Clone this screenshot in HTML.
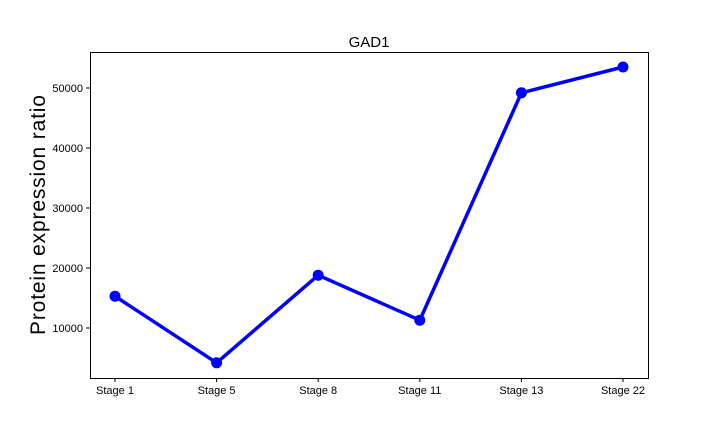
<!DOCTYPE html>
<html><head><meta charset="utf-8"><style>
body{margin:0;background:#fff;}
svg{display:block;font-family:"Liberation Sans","DejaVu Sans",sans-serif;}
</style></head><body>
<svg id="chart" width="720" height="432">
<rect x="0" y="0" width="720" height="432" fill="#fff"/>
<text x="369" y="47" text-anchor="middle" font-size="15">GAD1</text>
<text transform="translate(45,215) rotate(-90)" text-anchor="middle" font-size="21" textLength="240">Protein expression ratio</text>
<g id="axes"></g>
<rect x="90.5" y="52.5" width="558" height="326" fill="none" stroke="#000" stroke-width="1"/>
</svg>
<script>
const categories=["Stage 1","Stage 5","Stage 8","Stage 11","Stage 13","Stage 22"];
const values=[15300,4200,18800,11300,49200,53500];
const yTicks=[10000,20000,30000,40000,50000];
const yTickLabels=["10000","20000","30000","40000","50000"];
const NS="http://www.w3.org/2000/svg";
const g=document.getElementById("axes");
function xScale(i){return 115+i*101.6;}
function yScale(v){return 388-v*0.006;}
function mk(t,a){const e=document.createElementNS(NS,t);for(const k in a)e.setAttribute(k,a[k]);g.appendChild(e);return e;}
yTicks.forEach((v,i)=>{
  const y=yScale(v);
  const tk=mk("line",{x1:86,x2:90,y1:y,y2:y,stroke:"#000"});
  
  
  const t=mk("text",{x:83,y:y+4,"text-anchor":"end","font-size":"11"});
  t.textContent=yTickLabels[i];
  
  
});
categories.forEach((c,i)=>{
  const x=xScale(i);
  const tk=mk("line",{x1:x,x2:x,y1:378,y2:382,stroke:"#000"});
  
  
  const t=mk("text",{x:x,y:394,"text-anchor":"middle","font-size":"11"});
  t.textContent=c;
  
  
});
const pts=values.map((v,i)=>xScale(i)+","+yScale(v)).join(" ");
const line=mk("polyline",{points:pts,fill:"none",stroke:"#0000ff","stroke-width":"3.5","stroke-linejoin":"round"});


values.forEach((v,i)=>{
  const c=mk("circle",{cx:xScale(i),cy:yScale(v),r:5.5,fill:"#0000ff"});
  
  
});
</script>
</body></html>
